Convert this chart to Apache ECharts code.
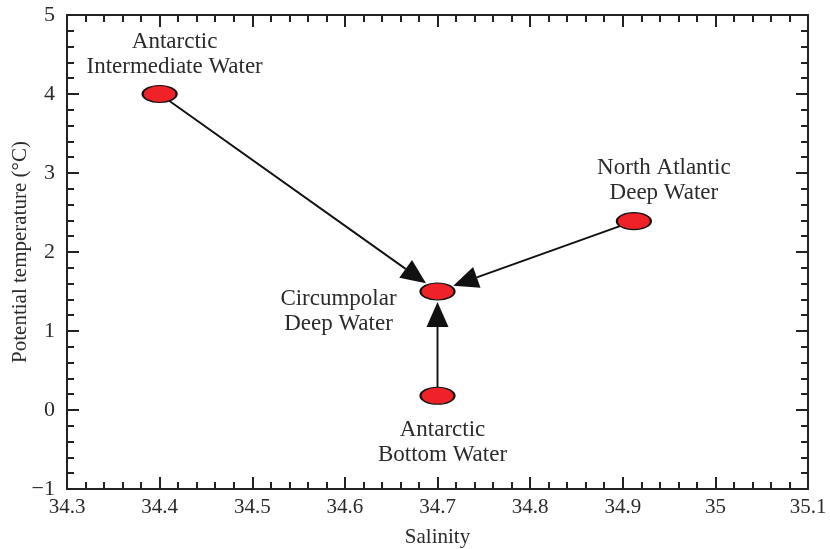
<!DOCTYPE html>
<html>
<head>
<meta charset="utf-8">
<script src="https://cdn.jsdelivr.net/npm/echarts@6/dist/echarts.min.js"></script>
<style>
  html, body { margin: 0; padding: 0; background: #fff; }
  #chart { width: 830px; height: 549px; }
</style>
</head>
<body>
<div id="chart"></div>
<script>
// water mass positions
var waterMasses = ['Antarctic\nIntermediate Water', 'Circumpolar\nDeep Water', 'North Atlantic\nDeep Water', 'Antarctic\nBottom Water']
var salinity = [34.4, 34.7, 34.912, 34.7]
var temperature = [4.0, 1.5, 2.39, 0.18]
// arrows: from -> to (indexes in the arrays above)
var arrowFrom = [0, 2, 3]
var arrowTo = [1, 1, 1]

var labelOffsets = [[15, -40], [-99, 20], [30, -41], [5, 47]]
var serif = 'Liberation Serif'
var textColor = '#2b2b2b'

var chart = echarts.init(document.getElementById('chart'))

var points = waterMasses.map(function (name, i) {
  return {
    name: name,
    value: [salinity[i], temperature[i]],
    label: { offset: labelOffsets[i] }
  }
})

var arrows = arrowFrom.map(function (f, i) {
  var t = arrowTo[i]
  return [salinity[f], temperature[f], salinity[t], temperature[t]]
})

// half axes of the ellipse marker, px
var ea = 17.5, eb = 9

function renderArrow(params, api) {
  var p0 = api.coord([api.value(0), api.value(1)])
  var p1 = api.coord([api.value(2), api.value(3)])
  var dx = p1[0] - p0[0], dy = p1[1] - p0[1]
  var len = Math.sqrt(dx * dx + dy * dy)
  var ux = dx / len, uy = dy / len
  // distance from target centre to ellipse edge along the line
  var edge = 1 / Math.sqrt((ux / ea) * (ux / ea) + (uy / eb) * (uy / eb))
  var tipD = edge + 1.5
  var tip = [p1[0] - ux * tipD, p1[1] - uy * tipD]
  var headL = 25, headW = 11
  var base = [tip[0] - ux * headL, tip[1] - uy * headL]
  var nx = -uy, ny = ux
  return {
    type: 'group',
    children: [{
      type: 'line',
      shape: { x1: p0[0], y1: p0[1], x2: base[0], y2: base[1] },
      style: { stroke: '#111', lineWidth: 1.9 }
    }, {
      type: 'polygon',
      shape: { points: [tip, [base[0] + nx * headW, base[1] + ny * headW], [base[0] - nx * headW, base[1] - ny * headW]] },
      style: { fill: '#111' }
    }]
  }
}

var tickStyle = { color: '#222', width: 2 }

function xAx(pos, showLabel) {
  return {
    type: 'value',
    position: pos,
    min: 34.3,
    max: 35.1,
    interval: 0.1,
    name: showLabel ? 'Salinity' : '',
    nameLocation: 'middle',
    nameGap: 38,
    nameTextStyle: { fontFamily: serif, fontSize: 21, color: textColor },
    axisLine: { show: true, onZero: false, lineStyle: { color: '#222', width: 2 } },
    axisTick: { show: true, inside: true, length: 12, lineStyle: tickStyle },
    minorTick: { show: true, splitNumber: 5, length: 7, lineStyle: tickStyle },
    splitLine: { show: false },
    minorSplitLine: { show: false },
    axisLabel: {
      show: showLabel,
      margin: 8,
      fontFamily: serif,
      fontSize: 21,
      color: textColor
    }
  }
}

function yAx(pos, showLabel) {
  return {
    type: 'value',
    position: pos,
    min: -1,
    max: 5,
    interval: 1,
    name: showLabel ? 'Potential temperature (°C)' : '',
    nameLocation: 'middle',
    nameGap: 36,
    nameMoveOverlap: false,
    nameTextStyle: { fontFamily: serif, fontSize: 21, color: textColor },
    axisLine: { show: true, onZero: false, lineStyle: { color: '#222', width: 2 } },
    axisTick: { show: true, inside: true, length: 12, lineStyle: tickStyle },
    minorTick: { show: true, splitNumber: 5, length: 7, lineStyle: tickStyle },
    splitLine: { show: false },
    minorSplitLine: { show: false },
    axisLabel: {
      show: showLabel,
      margin: 12,
      fontFamily: serif,
      fontSize: 22,
      color: textColor,
      formatter: function (v) { return String(v).replace('-', '\u2212') }
    }
  }
}

chart.setOption({
  animation: false,
  grid: { left: 67, right: 22, top: 15, bottom: 60, containLabel: false, outerBoundsMode: 'none' },
  xAxis: [xAx('bottom', true), xAx('top', false)],
  yAxis: [yAx('left', true), yAx('right', false)],
  series: [{
    type: 'custom',
    renderItem: renderArrow,
    data: arrows,
    z: 2,
    silent: true
  }, {
    type: 'scatter',
    data: points,
    symbol: 'circle',
    symbolSize: [34, 17],
    itemStyle: { color: '#ee2227', borderColor: '#111', borderWidth: 1.6, opacity: 1 },
    z: 3,
    label: {
      show: true,
      position: 'inside',
      formatter: '{b}',
      fontFamily: serif,
      fontSize: 23,
      lineHeight: 25,
      color: textColor,
      align: 'center',
      verticalAlign: 'middle'
    }
  }]
})
</script>
</body>
</html>
